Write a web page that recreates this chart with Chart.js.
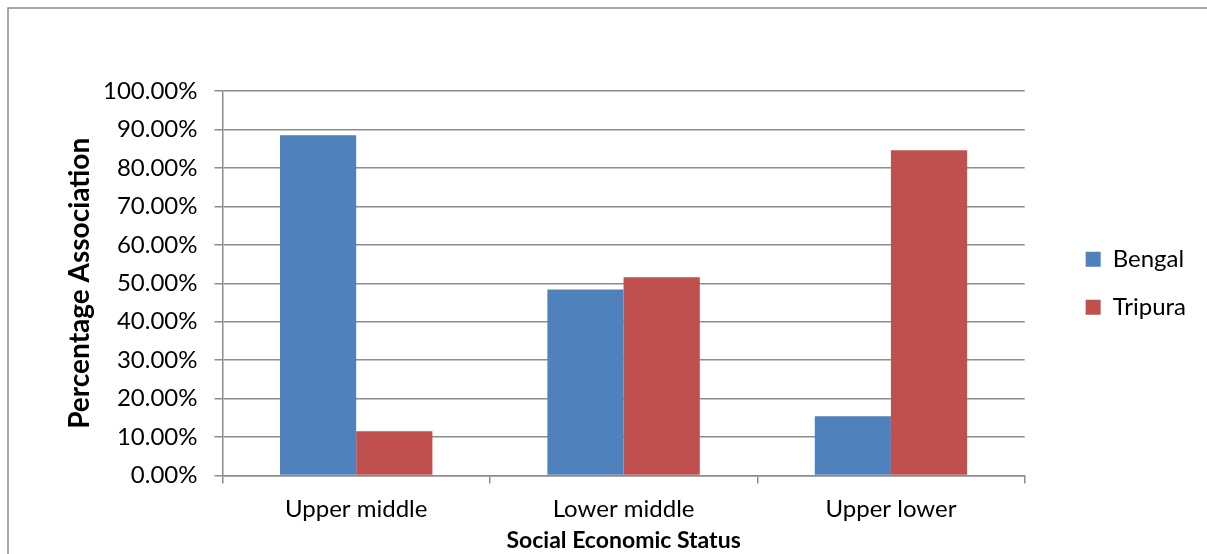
<!DOCTYPE html>
<html>
<head>
<meta charset="utf-8">
<script src="https://cdn.jsdelivr.net/npm/chart.js@4/dist/chart.umd.min.js"></script>
<style>
  body { margin: 0; background: #fff; }
  #wrap { width: 1207px; height: 554px; }
</style>
</head>
<body>
<div id="wrap"><canvas id="sesChart" width="1207" height="554"></canvas></div>
<script>
// Social economic status vs percentage association

const categories = ['Upper middle', 'Lower middle', 'Upper lower'];
const bengal = [88.5, 48.4, 15.4];
const tripura = [11.5, 51.6, 84.6];

const blue = '#4F81BD';
const red = '#C0504D';
const gridGrey = '#8C8C8C';
const fontFamily = 'Lato, "Open Sans", sans-serif';

// outer frame like the exported office chart
const framePlugin = {
  id: 'frame',
  beforeDraw(chart) {
    const ctx = chart.ctx;
    ctx.save();
    ctx.fillStyle = '#fff';
    ctx.fillRect(0, 0, chart.width, chart.height);
    ctx.strokeStyle = '#8C8C8C';
    ctx.lineWidth = 1.5;
    ctx.strokeRect(8, 8, chart.width + 20, chart.height + 20);
    ctx.restore();
  }
};

new Chart(document.getElementById('sesChart'), {
  type: 'bar',
  data: {
    labels: categories,
    datasets: [
      { label: 'Bengal', data: bengal, backgroundColor: blue, borderWidth: 0 },
      { label: 'Tripura', data: tripura, backgroundColor: red, borderWidth: 0 }
    ]
  },
  options: {
    responsive: false,
    animation: false,
    categoryPercentage: 0.57,
    barPercentage: 1.0,
    layout: { padding: { left: 66, top: 91, right: 11, bottom: 0 } },
    plugins: {
      legend: {
        position: 'right',
        fullSize: false,
        labels: {
          color: '#000',
          boxWidth: 15,
          boxHeight: 15,
          padding: 24,
          font: { family: fontFamily, size: 24 }
        }
      },
      tooltip: { enabled: false }
    },
    scales: {
      x: {
        offset: true,
        grid: { drawOnChartArea: false, drawTicks: true, tickLength: 8, color: gridGrey, lineWidth: 1.5, offset: true },
        border: { color: gridGrey, width: 1.5 },
        ticks: { color: '#000', font: { family: fontFamily, size: 24 }, padding: 11 },
        title: {
          display: true,
          text: 'Social Economic Status',
          color: '#000',
          font: { family: fontFamily, size: 23, weight: 'bold' },
          padding: { top: -8, bottom: 0 }
        }
      },
      y: {
        min: 0,
        max: 100,
        ticks: {
          stepSize: 10,
          color: '#000',
          font: { family: fontFamily, size: 24 },
          padding: 17,
          callback: v => v.toFixed(2) + '%'
        },
        grid: { color: gridGrey, lineWidth: 1.5, tickLength: 8 },
        border: { color: gridGrey, width: 1.5 },
        title: {
          display: true,
          text: 'Percentage Association',
          color: '#000',
          font: { family: fontFamily, size: 28, weight: 'bold', lineHeight: 1 },
          padding: { top: 0, bottom: -8 }
        }
      },
      // empty right-hand axis, only used as a gap between plot and legend
      gap: {
        position: 'right',
        display: true,
        min: 0,
        max: 1,
        ticks: { display: false },
        grid: { display: false },
        border: { display: false },
        afterFit: s => { s.width = 37; }
      }
    }
  },
  plugins: [framePlugin]
});
</script>
</body>
</html>
